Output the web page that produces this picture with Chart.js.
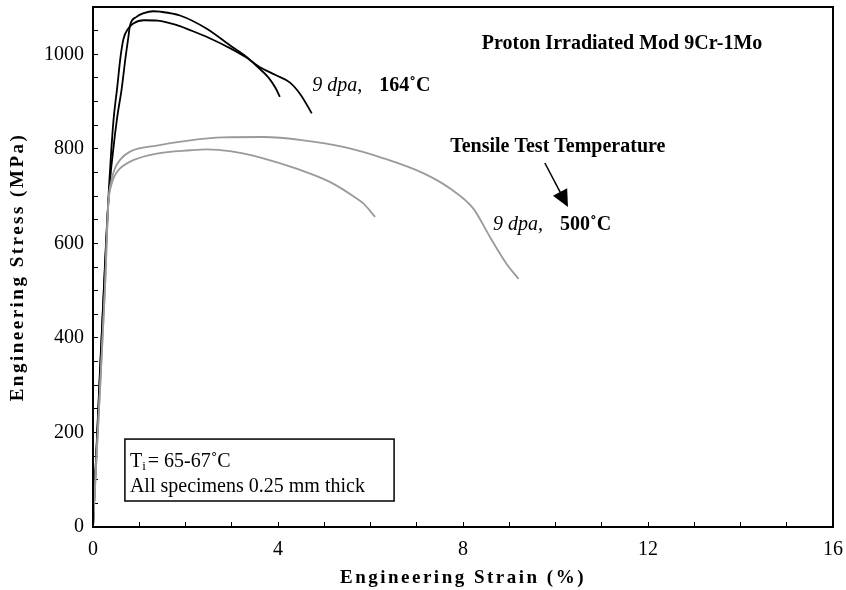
<!DOCTYPE html>
<html><head><meta charset="utf-8">
<script src="https://cdn.jsdelivr.net/npm/chart.js@4/dist/chart.umd.min.js"></script>
<style>html,body{margin:0;padding:0;background:#fff}</style>
</head><body>
<canvas id="c" width="846" height="590"></canvas>
<script>
// ---- data (strain %, stress MPa) ----
const strain164a = [0, 0.15, 0.33, 0.44, 0.52, 0.60, 0.66, 0.76, 0.87, 1.1, 1.4, 1.8, 2.1, 2.5, 2.96, 3.3, 3.6, 3.95, 4.26, 4.5, 4.73];
const stress164a = [0, 330, 690, 857, 927, 998, 1033, 1054, 1065, 1072, 1071, 1062, 1051, 1035, 1013, 994, 973, 956, 940, 913, 875];
const strain164b = [0, 0.15, 0.33, 0.51, 0.62, 0.71, 0.76, 0.80, 0.94, 1.1, 1.3, 1.45, 1.88, 2.46, 2.96, 3.3, 3.54, 3.8, 3.95, 4.04];
const stress164b = [0, 320, 685, 857, 927, 998, 1033, 1061, 1079, 1087, 1091, 1090, 1082, 1054, 1019, 996, 975, 950, 928, 910];
const strain500a = [0, 0.13, 0.26, 0.33, 0.40, 0.48, 0.58, 0.80, 1.38, 2.1, 2.82, 3.68, 4.55, 5.41, 6.28, 7.15, 7.72, 8.22, 8.58, 8.94, 9.2];
const stress500a = [0, 250, 507, 684, 734, 760, 776, 794, 807, 818, 824, 825, 818, 804, 780, 748, 716, 674, 614, 557, 525];
const strain500b = [0, 0.13, 0.26, 0.33, 0.40, 0.48, 0.58, 0.87, 1.38, 2.1, 2.46, 2.96, 3.68, 4.4, 5.12, 5.7, 5.85, 6.1];
const stress500b = [0, 250, 507, 680, 725, 745, 758, 776, 790, 797, 799, 795, 780, 758, 730, 695, 684, 656];
const xTickLabels = [0, 4, 8, 12, 16];
const yTickLabels = [0, 200, 400, 600, 800, 1000];

const pts = (xs, ys) => xs.map((x, i) => ({x: x, y: ys[i]}));
const SERIF = '"Liberation Serif", "Times New Roman", serif';

const annot = {
  id: 'annot',
  afterDatasetsDraw(chart) {
    const {ctx, chartArea: a} = chart;
    ctx.save();
    ctx.strokeStyle = '#000';
    ctx.lineWidth = 2;
    ctx.strokeRect(a.left, a.top, a.right - a.left, a.bottom - a.top);
    ctx.restore();
  },
  afterDraw(chart) {
    const {ctx, chartArea: a} = chart;
    const X = chart.scales.x, Y = chart.scales.y;
    const px = v => X.getPixelForValue(v), py = v => Y.getPixelForValue(v);
    ctx.save();
    ctx.fillStyle = '#000';
    ctx.textBaseline = 'middle';
    ctx.font = 'bold 20px ' + SERIF;
    ctx.textAlign = 'center';
    ctx.fillText('Proton Irradiated Mod 9Cr-1Mo', px(11.44), py(1022));
    ctx.fillText('Tensile Test Temperature', px(10.05), py(804));
    ctx.textAlign = 'left';
    const lab = (x, y, temp) => {
      ctx.font = 'italic 20px ' + SERIF;
      ctx.fillText('9 dpa,', px(x), py(y));
      const w = ctx.measureText('9 dpa,').width;
      ctx.font = 'bold 20px ' + SERIF;
      ctx.fillText(temp, px(x) + w + 17, py(y));
    };
    lab(4.74, 933, '164˚C');
    lab(8.65, 639, '500˚C');
    // arrow
    const x1 = px(9.77), y1 = py(770), x2 = px(10.27), y2 = py(677);
    const ang = Math.atan2(y2 - y1, x2 - x1);
    ctx.strokeStyle = '#000'; ctx.lineWidth = 1.5;
    ctx.beginPath(); ctx.moveTo(x1, y1);
    ctx.lineTo(x2 - 12 * Math.cos(ang), y2 - 12 * Math.sin(ang)); ctx.stroke();
    ctx.beginPath();
    ctx.moveTo(x2, y2);
    ctx.lineTo(x2 - 17 * Math.cos(ang) + 8 * Math.sin(ang), y2 - 17 * Math.sin(ang) - 8 * Math.cos(ang));
    ctx.lineTo(x2 - 17 * Math.cos(ang) - 8 * Math.sin(ang), y2 - 17 * Math.sin(ang) + 8 * Math.cos(ang));
    ctx.closePath(); ctx.fill();
    // box
    const bx = px(0.69), by = py(186), bw = px(6.51) - bx, bh = py(55) - by;
    ctx.fillStyle = '#fff'; ctx.fillRect(bx, by, bw, bh);
    ctx.lineWidth = 1.5; ctx.strokeRect(bx, by, bw, bh);
    ctx.fillStyle = '#000';
    ctx.font = '20px ' + SERIF;
    ctx.fillText('T', bx + 5, by + 23);
    const tw = ctx.measureText('T').width;
    ctx.font = '13px ' + SERIF;
    ctx.fillText('i', bx + 5 + tw, by + 28);
    const iw = ctx.measureText('i').width;
    ctx.font = '20px ' + SERIF;
    ctx.fillText('= 65-67˚C', bx + 5 + tw + iw + 2, by + 23);
    ctx.fillText('All specimens 0.25 mm thick', bx + 5, by + 48);
    // axis titles
    ctx.font = 'bold 19px ' + SERIF;
    ctx.letterSpacing = '2.5px';
    ctx.textAlign = 'center';
    ctx.fillText('Engineering Strain (%)', (a.left + a.right) / 2, 578);
    ctx.translate(18, (a.top + a.bottom) / 2);
    ctx.rotate(-Math.PI / 2);
    ctx.fillText('Engineering Stress (MPa)', 0, 0);
    ctx.restore();
  }
};

const ds = (xs, ys, color) => ({
  data: pts(xs, ys), showLine: true, borderColor: color, borderWidth: 1.8,
  pointRadius: 0, cubicInterpolationMode: 'monotone', fill: false
});

const noPad = s => { s.paddingTop = 0; s.paddingBottom = 0; s.paddingLeft = 0; s.paddingRight = 0; };

new Chart(document.getElementById('c'), {
  type: 'scatter',
  data: { datasets: [
    ds(strain500a, stress500a, '#9a9a9a'),
    ds(strain500b, stress500b, '#9a9a9a'),
    ds(strain164a, stress164a, '#000'),
    ds(strain164b, stress164b, '#000')
  ]},
  options: {
    responsive: false, animation: false, devicePixelRatio: 1,
    layout: { padding: { top: 7, right: 13, left: 0, bottom: 0 } },
    plugins: { legend: { display: false }, tooltip: { enabled: false } },
    scales: {
      x: {
        type: 'linear', min: 0, max: 16, position: 'bottom',
        afterFit: s => { s.height = 63; noPad(s); },
        border: { display: true, color: '#000', width: 2 },
        grid: { drawOnChartArea: false, drawTicks: true, tickLength: -5, color: '#000', lineWidth: 1 },
        ticks: { stepSize: 1, autoSkip: false, maxRotation: 0, minRotation: 0, padding: 16, color: '#000',
          font: { family: SERIF, size: 20 },
          callback: v => xTickLabels.includes(v) ? String(v) : '' }
      },
      y: {
        type: 'linear', min: 0, max: 1100,
        afterFit: s => { s.width = 93; noPad(s); },
        border: { display: true, color: '#000', width: 2 },
        grid: { drawOnChartArea: false, drawTicks: true, tickLength: -5, color: '#000', lineWidth: 1 },
        ticks: { stepSize: 50, autoSkip: false, padding: 14, color: '#000',
          font: { family: SERIF, size: 20 },
          callback: v => yTickLabels.includes(v) ? String(v) : '' }
      }
    }
  },
  plugins: [annot]
});
</script>
</body></html>
